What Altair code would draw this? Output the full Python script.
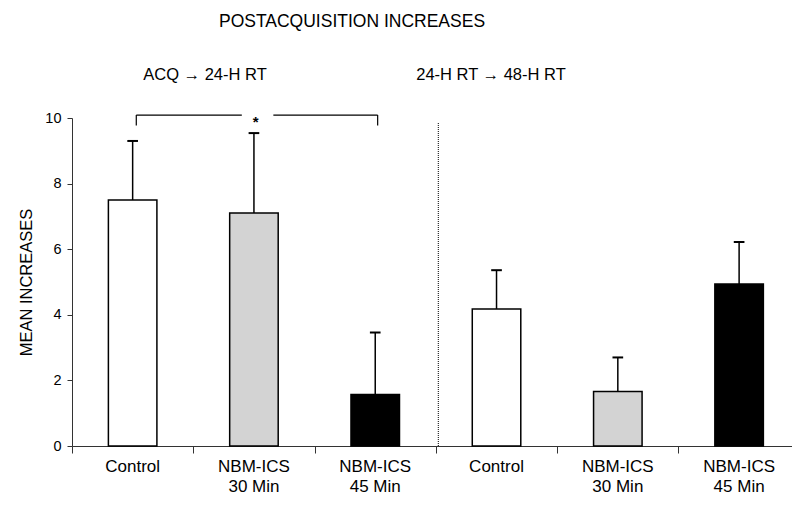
import altair as alt
import pandas as pd

# ---- data ----
group_labels = ["Control", "NBM-ICS\n30 Min", "NBM-ICS\n45 Min",
                "Control", "NBM-ICS\n30 Min", "NBM-ICS\n45 Min"]
group_index = [0, 1, 2, 3, 4, 5]
means = [7.50, 7.10, 1.57, 4.18, 1.66, 4.94]
sems = [1.80, 2.44, 1.89, 1.18, 1.04, 1.28]
treatment = ["Control", "NBM-ICS 30", "NBM-ICS 45",
             "Control", "NBM-ICS 30", "NBM-ICS 45"]
treat_domain = ["Control", "NBM-ICS 30", "NBM-ICS 45"]
treat_colors = ["white", "#d3d3d3", "black"]

main_title = ["POSTACQUISITION INCREASES"]
phase_titles = ["ACQ  \u2192 24-H RT", "24-H RT \u2192 48-H  RT"]

bracket_x = [0.53, 2.52]
bracket_top = 10.09
bracket_bottom = 9.77
star_x = 1.515
divider_x = 3.02
divider_top = 9.87

FONT = "Liberation Sans"

df = pd.DataFrame({
    "idx": group_index, "label": group_labels, "mean": means,
    "sem": sems, "treat": treatment,
})

xscale = alt.Scale(domain=[0, 5.936], nice=False, zero=False)
yscale = alt.Scale(domain=[0, 10], nice=False)

base = alt.Chart(df).transform_calculate(
    c="datum.idx + 0.5",
    l="datum.idx + 0.3",
    r="datum.idx + 0.7",
    top="datum.mean + datum.sem",
    cl="datum.idx + 0.456",
    cr="datum.idx + 0.544",
)

axis_layer = alt.Chart(pd.DataFrame({"v": [0]})).mark_point(opacity=0).encode(
    x=alt.X("v:Q", scale=xscale,
            axis=alt.Axis(values=[0, 1, 2, 3, 4, 5], labels=False, title=None,
                          tickSize=7, grid=False, domainColor="#333",
                          tickColor="#333")),
    y=alt.Y("v:Q", scale=yscale,
            axis=alt.Axis(values=[0, 2, 4, 6, 8, 10], title="MEAN INCREASES",
                          tickSize=5, grid=False, domainColor="#333",
                          tickColor="#333", labelFontSize=14.5, labelFont=FONT,
                          labelColor="black", labelPadding=6,
                          titleFont=FONT, titleFontSize=16.5,
                          titleFontWeight="normal", titleColor="black",
                          titlePadding=10)),
)

bars = base.mark_bar(stroke="black", strokeWidth=1.5).encode(
    x=alt.X("l:Q", scale=xscale),
    x2="r:Q",
    y=alt.Y("mean:Q", scale=yscale),
    y2=alt.datum(0),
    fill=alt.Fill("treat:N", scale=alt.Scale(domain=treat_domain, range=treat_colors),
                  legend=None),
)

err = base.mark_rule(color="black", strokeWidth=1.5).encode(
    x=alt.X("c:Q", scale=xscale),
    y=alt.Y("mean:Q", scale=yscale),
    y2="top:Q",
)

caps = base.mark_rule(color="black", strokeWidth=2).encode(
    x=alt.X("cl:Q", scale=xscale),
    x2="cr:Q",
    y=alt.Y("top:Q", scale=yscale),
)

xlabels = base.mark_text(fontSize=17, font=FONT, color="black", baseline="middle",
                         lineBreak="\n", lineHeight=20).encode(
    x=alt.X("c:Q", scale=xscale),
    y=alt.value(349),
    text="label:N",
)

# significance bracket
br_df = pd.DataFrame({
    "x1": [bracket_x[0], bracket_x[0], bracket_x[1], 1.66],
    "x2": [bracket_x[0], 1.40, bracket_x[1], bracket_x[1]],
    "y1": [bracket_bottom, bracket_top, bracket_bottom, bracket_top],
    "y2": [bracket_top, bracket_top, bracket_top, bracket_top],
})
bracket = alt.Chart(br_df).mark_rule(color="black", strokeWidth=1.2).encode(
    x=alt.X("x1:Q", scale=xscale), x2="x2:Q",
    y=alt.Y("y1:Q", scale=yscale), y2="y2:Q",
)
star = alt.Chart(pd.DataFrame({"x": [star_x], "y": [bracket_top], "t": ["*"]})).mark_text(
    fontSize=15, fontWeight="bold", font=FONT, baseline="middle", dy=7, color="black"
).encode(x=alt.X("x:Q", scale=xscale), y=alt.Y("y:Q", scale=yscale), text="t:N")

divider = alt.Chart(pd.DataFrame({"x": [divider_x], "y": [0], "y2": [divider_top]})).mark_rule(
    color="black", strokeWidth=1, strokeDash=[1, 1]
).encode(x=alt.X("x:Q", scale=xscale), y=alt.Y("y:Q", scale=yscale), y2="y2:Q")

title = alt.Chart(pd.DataFrame({"t": main_title})).mark_text(
    fontSize=17.5, font=FONT, color="black", baseline="middle"
).encode(x=alt.value(280), y=alt.value(-96), text="t:N")

phase = alt.Chart(pd.DataFrame({"t": phase_titles, "px": [133, 419]})).mark_text(
    fontSize=16.5, font=FONT, color="black", baseline="middle"
).encode(x=alt.X("px:Q", scale=None), y=alt.value(-43), text="t:N")

chart = alt.layer(axis_layer, divider, bars, err, caps, xlabels, bracket, star,
                  title, phase).properties(
    width=720, height=328,
    autosize=alt.AutoSizeParams(type="none"),
    padding={"left": 72, "top": 118, "right": 0, "bottom": 61},
).configure_view(stroke=None).configure_axis(domainWidth=1, tickWidth=1)

chart.save("out.html", embed_options={"renderer": "svg", "actions": False})
